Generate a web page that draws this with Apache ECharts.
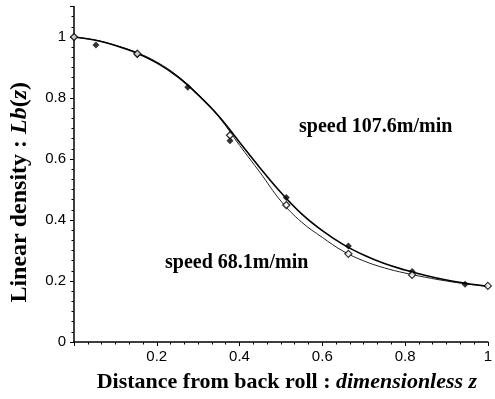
<!DOCTYPE html>
<html>
<head>
<meta charset="utf-8">
<script src="https://cdn.jsdelivr.net/npm/echarts@6/dist/echarts.min.js"></script>
<style>html,body{margin:0;padding:0;background:#fff}#c{width:495px;height:399px}</style>
</head>
<body>
<div id="c"></div>
<script>
// Measured points, speed 107.6 m/min (filled diamonds)
const fastX = [0, 0.053, 0.153, 0.275, 0.377, 0.513, 0.663, 0.817, 0.945];
const fastY = [1.0, 0.974, 0.943, 0.835, 0.66, 0.474, 0.315, 0.231, 0.189];
// Measured points, speed 68.1 m/min (open diamonds)
const slowX = [0, 0.153, 0.377, 0.513, 0.663, 0.817, 1.0];
const slowY = [1.0, 0.945, 0.678, 0.449, 0.289, 0.220, 0.184];
// Fitted curves
const curveX = [0, 0.05, 0.1, 0.15, 0.2, 0.25, 0.3, 0.35, 0.4, 0.45, 0.5, 0.55, 0.6, 0.65, 0.7, 0.75, 0.8, 0.85, 0.9, 0.95, 1.0];
const fastCurve = [1.0, 0.99, 0.972, 0.948, 0.915, 0.87, 0.81, 0.74, 0.655, 0.57, 0.49, 0.42, 0.365, 0.32, 0.285, 0.257, 0.236, 0.218, 0.203, 0.192, 0.183];
const slowCurve = [1.0, 0.99, 0.973, 0.95, 0.918, 0.873, 0.812, 0.738, 0.645, 0.555, 0.462, 0.393, 0.343, 0.298, 0.266, 0.243, 0.226, 0.212, 0.2, 0.19, 0.182];
const xTicks = [0.2, 0.4, 0.6, 0.8, 1];
const yTicks = [0, 0.2, 0.4, 0.6, 0.8, 1];
const labelFast = 'speed 107.6m/min';
const labelSlow = 'speed 68.1m/min';

const zip = (xs, ys) => xs.map((x, i) => [x, ys[i]]);
const chart = echarts.init(document.getElementById('c'), null, {renderer: 'canvas'});
const serif = '"Liberation Serif", "Times New Roman", serif';
const sans = '"Liberation Sans", Arial, sans-serif';
chart.setOption({
  animation: false,
  backgroundColor: '#fff',
  grid: {left: 72, right: 6, top: 6.5, bottom: 57},
  xAxis: {
    type: 'value', min: 0, max: 1, interval: 0.2,
    axisLine: {lineStyle: {color: '#000', width: 1.5}},
    axisTick: {show: true, length: 4, lineStyle: {color: '#000'}},
    minorTick: {show: true, splitNumber: 6, length: 2.5, lineStyle: {color: '#000'}},
    splitLine: {show: false},
    axisLabel: {
      showMinLabel: false, color: '#000', fontFamily: sans, fontSize: 15, margin: 7,
      formatter: v => xTicks.some(t => Math.abs(t - v) < 1e-9) ? String(+v.toFixed(1)) : ''
    },
    name: '{a|Distance from back roll : }{b|dimensionless z}',
    nameLocation: 'middle', nameGap: 29,
    nameTextStyle: {
      padding: [0, 0, 0, 12],
      rich: {
        a: {fontFamily: serif, fontWeight: 'bold', fontSize: 22, color: '#000'},
        b: {fontFamily: serif, fontWeight: 'bold', fontStyle: 'italic', fontSize: 22, color: '#000'}
      }
    }
  },
  yAxis: {
    type: 'value', min: 0, max: 1.1, interval: 0.2,
    axisLine: {show: true, lineStyle: {color: '#000', width: 1.5}},
    axisTick: {show: true, length: 4, lineStyle: {color: '#000'}},
    minorTick: {show: true, splitNumber: 6, length: 2.5, lineStyle: {color: '#000'}},
    splitLine: {show: false},
    axisLabel: {
      showMaxLabel: false, color: '#000', fontFamily: sans, fontSize: 15, margin: 8,
      formatter: v => yTicks.some(t => Math.abs(t - v) < 1e-9) ? String(+v.toFixed(1)) : ''
    },
    name: '{a|Linear density : }{b|Lb}{a|(}{b|z}{a|)}',
    nameLocation: 'middle', nameGap: 42, nameRotate: 90,
    nameTextStyle: {
      padding: [0, 36, 0, 0],
      rich: {
        a: {fontFamily: serif, fontWeight: 'bold', fontSize: 24, color: '#000'},
        b: {fontFamily: serif, fontWeight: 'bold', fontStyle: 'italic', fontSize: 24, color: '#000'}
      }
    }
  },
  series: [
    {type: 'line', data: zip(curveX, slowCurve), smooth: 0.4, symbol: 'none',
     lineStyle: {color: '#222', width: 1}, z: 2},
    {type: 'line', data: zip(curveX, fastCurve), smooth: 0.4, symbol: 'none',
     lineStyle: {color: '#000', width: 1.6}, z: 3},
    {type: 'scatter', data: zip(fastX, fastY), symbol: 'diamond', symbolSize: 7,
     itemStyle: {color: '#000'}, z: 5},
    {type: 'scatter', data: zip(slowX, slowY), symbol: 'diamond', symbolSize: 7,
     itemStyle: {color: '#fff', borderColor: '#000', borderWidth: 1.3}, z: 6}
  ],
  graphic: [
    {type: 'text', left: 299, top: 117, style: {text: labelFast, font: 'bold 20px ' + serif, fill: '#000'}},
    {type: 'text', left: 165, top: 253, style: {text: labelSlow, font: 'bold 20px ' + serif, fill: '#000'}}
  ]
});
</script>
</body>
</html>
